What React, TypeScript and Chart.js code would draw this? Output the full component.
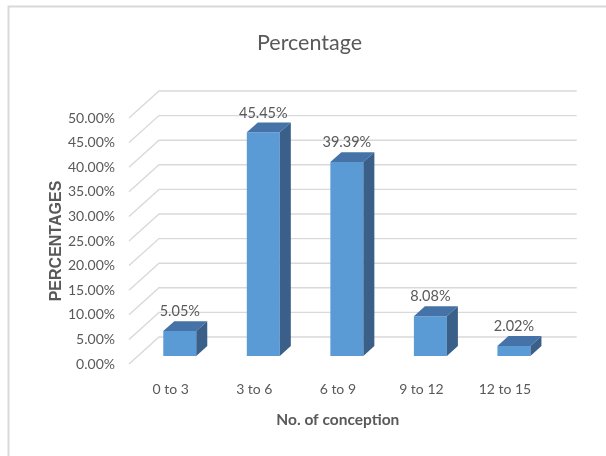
import React, { useEffect, useRef } from 'react';
import { Chart, registerables } from 'chart.js';

Chart.register(...registerables);

// ---- data ----
const categories: string[] = ['0 to 3', '3 to 6', '6 to 9', '9 to 12', '12 to 15'];
const percentages: number[] = [5.05, 45.45, 39.39, 8.08, 2.02];
const yMin = 0;
const yMax = 50;
const yStep = 5;
const chartTitle = 'Percentage';
const xAxisTitle = 'No. of conception';
const yAxisTitle = 'PERCENTAGES';

// ---- styling ----
const FONT = "Lato, 'Liberation Sans', sans-serif";
const WIDE = "'Liberation Sans', Arial, sans-serif";
const TEXT = '#595959';
const GRID = '#d9d9d9';
const FRONT = '#5b9bd5';
const TOP = '#4573a7';
const SIDE = '#3a6089';
const DX = 30; // depth vector of the floor
const DY = 27;
const F = 0.3; // bar front depth fraction
const B = 0.667; // bar back depth fraction

const fmt = (v: number) => v.toFixed(2) + '%';

const threeD = {
  id: 'threeD',
  beforeDraw(chart: any) {
    const { ctx } = chart;
    ctx.save();
    ctx.strokeStyle = GRID;
    ctx.lineWidth = 2;
    ctx.beginPath();
    ctx.moveTo(7.5, 6.5);
    ctx.lineTo(606, 6.5);
    ctx.moveTo(8.5, 5.5);
    ctx.lineTo(8.5, 456);
    ctx.stroke();
    ctx.restore();
  },
  beforeDatasetsDraw(chart: any) {
    const { ctx, chartArea } = chart;
    const y = chart.scales.y;
    ctx.save();
    ctx.strokeStyle = GRID;
    ctx.lineWidth = 1.4;
    y.ticks.forEach((t: any) => {
      const py = y.getPixelForValue(t.value);
      ctx.beginPath();
      ctx.moveTo(chartArea.left, py);
      ctx.lineTo(chartArea.left + DX, py - DY);
      ctx.lineTo(chartArea.right + DX, py - DY);
      ctx.stroke();
    });
    ctx.restore();
    ctx.save();
    ctx.translate(DX * F, -DY * F);
  },
  afterDatasetsDraw(chart: any) {
    const { ctx } = chart;
    const meta = chart.getDatasetMeta(0);
    const bx = DX * (B - F);
    const by = DY * (B - F);
    const values = chart.data.datasets[0].data as number[];
    meta.data.forEach((bar: any, i: number) => {
      const { x, y, base, width } = bar.getProps(['x', 'y', 'base', 'width'], true);
      const l = x - width / 2;
      const r = x + width / 2;
      ctx.fillStyle = TOP;
      ctx.beginPath();
      ctx.moveTo(l, y);
      ctx.lineTo(r, y);
      ctx.lineTo(r + bx, y - by);
      ctx.lineTo(l + bx, y - by);
      ctx.closePath();
      ctx.fill();
      ctx.fillStyle = SIDE;
      ctx.beginPath();
      ctx.moveTo(r, y);
      ctx.lineTo(r + bx, y - by);
      ctx.lineTo(r + bx, base - by);
      ctx.lineTo(r, base);
      ctx.closePath();
      ctx.fill();
      ctx.fillStyle = TEXT;
      ctx.font = `14.5px ${FONT}`;
      ctx.textAlign = 'center';
      ctx.textBaseline = 'middle';
      ctx.fillText(fmt(values[i]), x, y - by - 9.5);
    });
    ctx.restore();
  },
};

export default function App() {
  const ref = useRef<HTMLCanvasElement | null>(null);
  useEffect(() => {
    if (!ref.current) return;
    const chart = new Chart(ref.current, {
      type: 'bar',
      data: {
        labels: categories,
        datasets: [
          {
            data: percentages,
            backgroundColor: FRONT,
            borderWidth: 0,
            barPercentage: 1,
            categoryPercentage: 0.395,
            clip: false as any,
          },
        ],
      },
      options: {
        animation: false,
        responsive: false,
        devicePixelRatio: 1,
        layout: { padding: { left: 13, right: 0, top: 0, bottom: 0 } },
        plugins: {
          legend: { display: false },
          tooltip: { enabled: false },
          title: {
            display: true,
            text: chartTitle,
            color: TEXT,
            font: { family: FONT, size: 21.5, weight: 'normal' as any },
            padding: { top: 30.5, bottom: 61.7 },
          },
        },
        scales: {
          x: {
            grid: { display: false, drawTicks: false },
            border: { display: false },
            ticks: { color: TEXT, font: { family: FONT, size: 14 }, padding: 17.5 },
            title: {
              display: true,
              text: xAxisTitle,
              color: TEXT,
              font: { family: FONT, size: 15.5, weight: 'bold' as any },
              padding: { top: 0, bottom: 26.9 },
            },
            afterFit: (s: any) => {
              s.height = 92;
            },
          },
          y: {
            min: yMin,
            max: yMax,
            grid: { display: false, drawTicks: false },
            border: { display: false },
            ticks: {
              stepSize: yStep,
              color: TEXT,
              font: { family: FONT, size: 14 },
              padding: 14,
              callback: (v: any) => fmt(Number(v)),
            },
            title: {
              display: true,
              text: yAxisTitle,
              color: TEXT,
              font: { family: WIDE, size: 16, weight: 'bold' as any },
              padding: { top: 33.8, bottom: 0 },
            },
            afterFit: (s: any) => {
              s.width = 116;
            },
          },
          yRight: {
            type: 'linear',
            position: 'right',
            grid: { display: false, drawTicks: false },
            border: { display: false },
            ticks: { display: false },
            afterFit: (s: any) => {
              s.width = 59.3;
            },
          },
        },
      },
      plugins: [threeD],
    });
    return () => chart.destroy();
  }, []);
  return (
    <div style={{ position: 'fixed', left: 0, top: 0, width: 606, height: 456, background: '#fff' }}>
      <canvas ref={ref} width={606} height={456} style={{ display: 'block' }} />
    </div>
  );
}
